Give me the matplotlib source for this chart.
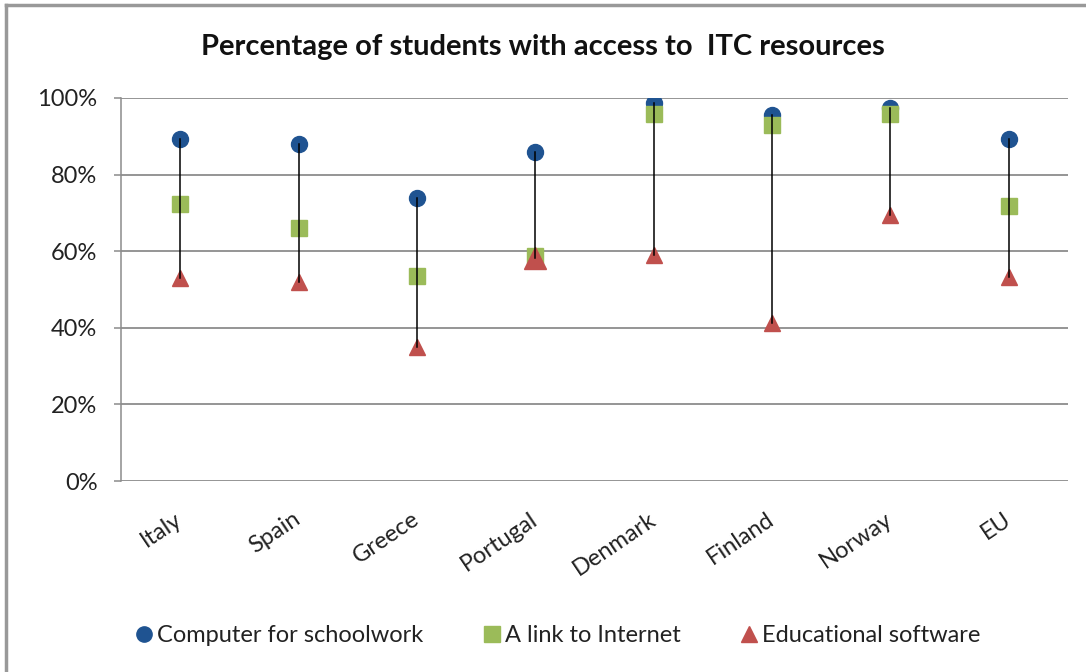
import matplotlib.pyplot as plt
from matplotlib.lines import Line2D
from matplotlib.ticker import PercentFormatter

countries = ["Italy", "Spain", "Greece", "Portugal", "Denmark", "Finland", "Norway", "EU"]
computer = [89.3, 88.0, 73.9, 85.9, 98.7, 95.6, 97.4, 89.3]
internet = [72.3, 66.0, 53.5, 58.7, 95.8, 93.0, 95.8, 71.8]
software = [53.0, 52.0, 35.0, 58.2, 59.0, 41.2, 69.5, 53.3]
software_size = [11, 11, 11, 16, 11, 11, 11, 11]

BLUE = "#1f5391"
GREEN = "#9bbb59"
RED = "#c0504d"
GRID = "#8c8c8c"

plt.rcParams["font.family"] = ["Lato", "DejaVu Sans"]

fig = plt.figure(figsize=(10.86, 6.72), dpi=100)
ax = fig.add_axes([121 / 1086, 1 - 481 / 672, (1068 - 121) / 1086, (481 - 98) / 672])

x = list(range(len(countries)))

for i in x:
    ax.plot(x[i], computer[i], "o", color=BLUE, ms=11.5, zorder=3)
    ax.plot(x[i], internet[i], "s", color=GREEN, ms=12, zorder=3)
    ax.plot(x[i], software[i], "^", color=RED, ms=software_size[i], zorder=3)
    hi = max(computer[i], internet[i], software[i])
    lo = min(computer[i], internet[i], software[i])
    ax.plot([x[i], x[i]], [hi, lo], color="black", lw=1.1, zorder=4)

ax.set_xlim(-0.5, len(countries) - 0.5)
ax.set_ylim(0, 100)
ax.set_yticks(range(0, 101, 20))
ax.yaxis.set_major_formatter(PercentFormatter(decimals=0))
ax.grid(axis="y", color=GRID, lw=1.3)
ax.set_axisbelow(True)

for side in ["top", "right", "bottom"]:
    ax.spines[side].set_visible(False)
ax.spines["left"].set_color(GRID)
ax.spines["left"].set_linewidth(1.1)

ax.tick_params(axis="y", length=5, width=1.1, color=GRID, labelsize=17,
               labelcolor="#222222", pad=12)
ax.set_xticks(x)
ax.set_xticklabels(countries, rotation=34, ha="right", va="center",
                   rotation_mode="anchor", fontsize=17, color="#222222")
ax.tick_params(axis="x", length=0, pad=26)

fig.text(0.5, 1 - 47 / 672, "Percentage of students with access to  ITC resources",
         ha="center", va="center", fontsize=21, fontweight="bold", color="#111111")

handles = [
    Line2D([], [], marker="o", ls="none", color=BLUE, ms=11, label="Computer for schoolwork"),
    Line2D([], [], marker="s", ls="none", color=GREEN, ms=11, label="A link to Internet"),
    Line2D([], [], marker="^", ls="none", color=RED, ms=12, label="Educational software"),
]
fig.legend(handles=handles, loc="center", bbox_to_anchor=(559 / 1086, 1 - 636 / 672),
           ncol=3, frameon=False, fontsize=17, handlelength=0.6, handletextpad=0.25,
           columnspacing=2.6, labelcolor="#222222")

# outer chart border (top and left edges)
fig.add_artist(Line2D([6 / 1086, 1], [1 - 5 / 672, 1 - 5 / 672], color="#999999", lw=2.5))
fig.add_artist(Line2D([6 / 1086, 6 / 1086], [0, 1 - 5 / 672], color="#999999", lw=2.5))

fig.savefig("out.png", dpi=100)
